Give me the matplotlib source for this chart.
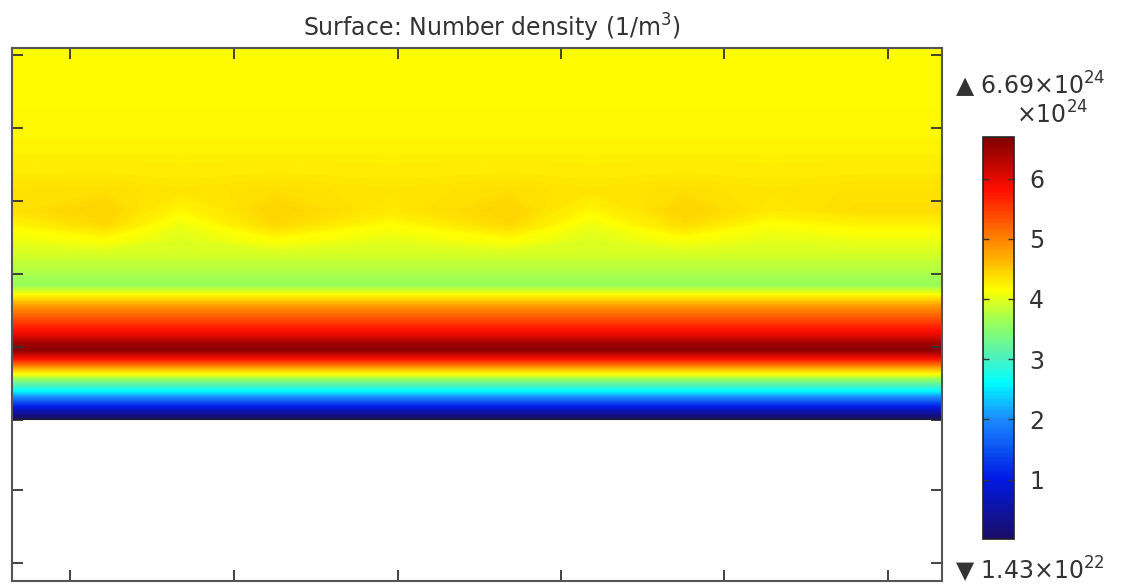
import numpy as np
import matplotlib
matplotlib.use("Agg")
import matplotlib.pyplot as plt
from matplotlib.colors import LinearSegmentedColormap

# number density, in units of 1e24 1/m^3
vmin = 0.0143
vmax = 6.69

# heights (a.u.) and the horizontally uniform values
prof_y = [1.62, 1.69, 1.76, 1.83, 1.89, 1.96, 2.03, 2.09, 2.16, 2.23, 2.31,
          2.38, 2.46, 2.61, 2.76, 2.86, 2.96, 3.11, 3.26]
prof_v = [0.0143, 0.5, 1.2, 1.9, 2.5, 3.1, 3.7, 4.3, 5.1, 5.9, 6.6,
          6.45, 6.0, 5.4, 4.8, 4.15, 3.6, 3.75, 3.92]

# wavy band just below the top region
wave_x = [0.0, 0.93, 1.68, 2.63, 3.78, 4.98, 5.78, 6.73, 7.58, 8.48, 9.3]
wave_y = [3.41, 3.56, 3.71, 3.91]
wave_v = [
    [4.05, 4.15, 3.98, 4.15, 4.02, 4.15, 3.98, 4.12, 4.02, 4.05, 4.05],
    [4.2, 4.4, 4.05, 4.4, 4.15, 4.4, 4.05, 4.38, 4.12, 4.22, 4.22],
    [4.35, 4.45, 4.2, 4.45, 4.3, 4.45, 4.2, 4.45, 4.3, 4.38, 4.38],
    [4.35, 4.36, 4.33, 4.36, 4.33, 4.36, 4.33, 4.36, 4.33, 4.35, 4.35],
]

# upper region
top_y = [4.31, 4.81, 5.33]
top_v = [4.22, 4.18, 4.18]

x_ticks = [0.58, 2.22, 3.86, 5.49, 7.12, 8.76]
y_ticks = [0.18, 0.91, 1.61, 2.34, 3.07, 3.80, 4.53, 5.26]
cbar_ticks = [1, 2, 3, 4, 5, 6]

# COMSOL-like rainbow
rainbow = LinearSegmentedColormap.from_list("rainbow_c", [
    (0.00, (0.10, 0.05, 0.40)),
    (0.15, (0.00, 0.10, 0.90)),
    (0.30, (0.10, 0.55, 1.00)),
    (0.39, (0.00, 1.00, 1.00)),
    (0.45, (0.30, 0.95, 0.75)),
    (0.54, (0.60, 1.00, 0.35)),
    (0.62, (1.00, 1.00, 0.00)),
    (0.75, (1.00, 0.50, 0.00)),
    (0.87, (1.00, 0.05, 0.00)),
    (1.00, (0.50, 0.00, 0.00)),
])

# assemble grid
ys = prof_y + wave_y + top_y
rows = [[v] * len(wave_x) for v in prof_v] + wave_v + [[v] * len(wave_x) for v in top_v]
X, Y = np.meshgrid(wave_x, ys)
Z = np.array(rows)

fig = plt.figure(figsize=(11.25, 5.86), dpi=100)
ax = fig.add_axes([12 / 1125, 5 / 586, 930 / 1125, 533 / 586])
levels = np.linspace(vmin, vmax, 300)
cs = ax.contourf(X, Y, Z, levels=levels, cmap=rainbow, vmin=vmin, vmax=vmax,
                 antialiased=False)
ax.plot([wave_x[0], wave_x[-1]], [prof_y[0], prof_y[0]], color="#1a1a4a", lw=1.5)

ax.set_xlim(0, 9.3)
ax.set_ylim(0, 5.33)
ax.set_xticks(x_ticks)
ax.set_yticks(y_ticks)
ax.tick_params(direction="in", length=8, width=1.3, color="#333333",
               top=True, right=True, labelbottom=False, labelleft=False)
for s in ax.spines.values():
    s.set_color("#555555")
    s.set_linewidth(1.5)

fig.text(492 / 1125, 1 - 28 / 586, "Surface: Number density (1/m$^3$)",
         ha="center", va="center", fontsize=17, color="#333333")

cax = fig.add_axes([983 / 1125, 47 / 586, 31 / 1125, 402 / 586])
cb = fig.colorbar(cs, cax=cax, ticks=cbar_ticks)
cb.outline.set_edgecolor("#222222")
cb.outline.set_linewidth(1.2)
cax.tick_params(direction="in", length=4, width=1, color="#333333",
                labelsize=17, labelcolor="#333333", pad=11)
cax.yaxis.set_ticks_position("both")
cax.tick_params(labelleft=False, labelright=True)

fig.text(955 / 1125, 1 - 85 / 586, "▲ %.2f×10$^{24}$" % vmax,
         ha="left", va="center", fontsize=17, color="#333333")
fig.text(1052 / 1125, 1 - 115 / 586, "×10$^{24}$",
         ha="center", va="center", fontsize=17, color="#333333")
fig.text(955 / 1125, 1 - 570 / 586, "▼ %.2f×10$^{22}$" % (vmin * 100),
         ha="left", va="center", fontsize=17, color="#333333")

fig.savefig("out.png", dpi=100)
